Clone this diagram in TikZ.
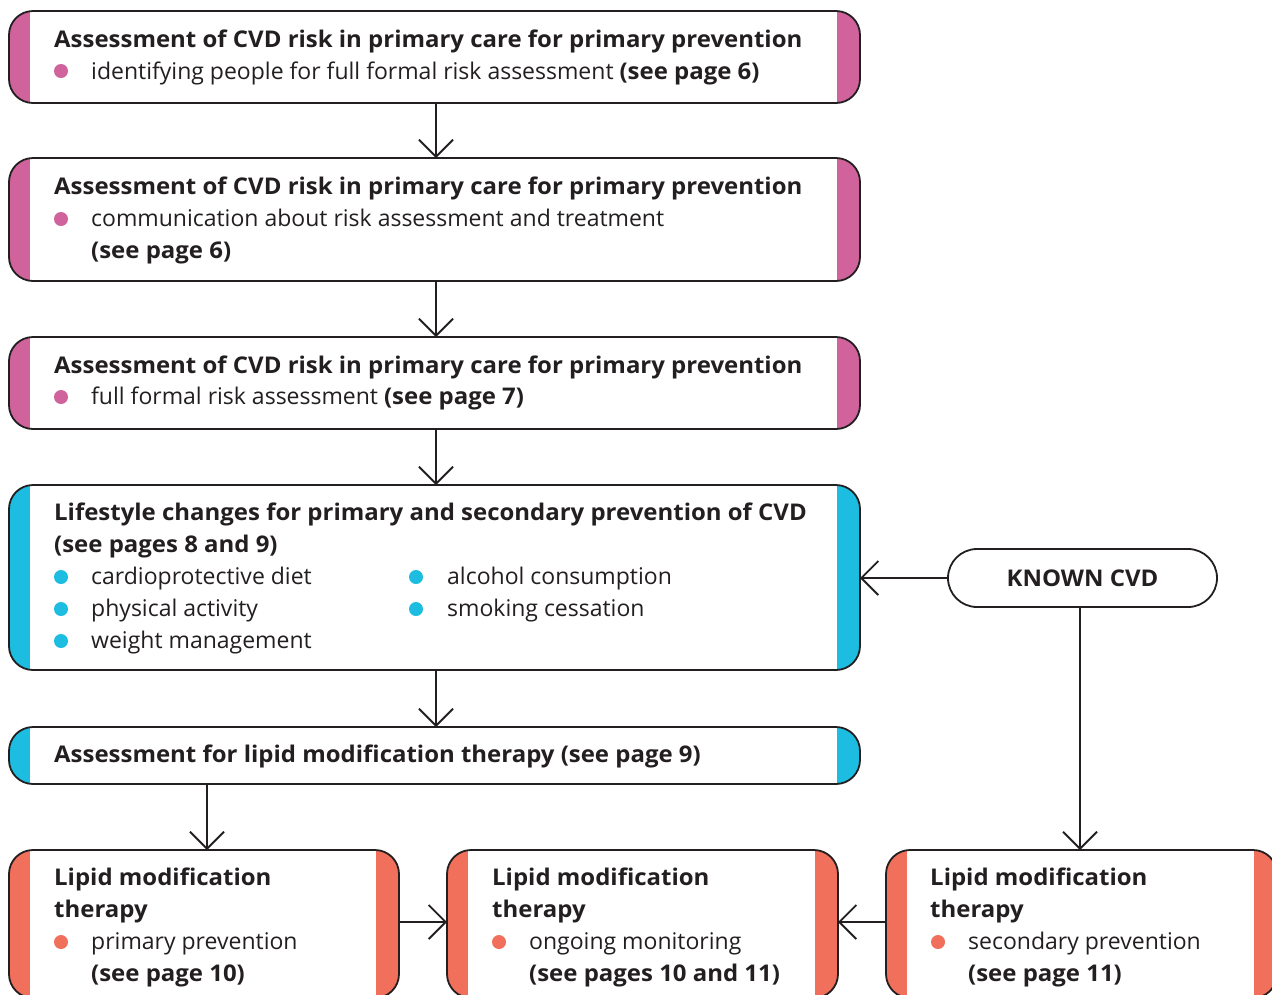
\documentclass[tikz,border=0pt]{standalone}
\usepackage{fontspec}
\setmainfont{Open Sans}[BoldFeatures={FakeStretch=1.042}]
\usetikzlibrary{arrows.meta}
\definecolor{linec}{HTML}{231F20}
\definecolor{pinkc}{HTML}{D0639C}
\definecolor{cyanc}{HTML}{1CBDE0}
\definecolor{coralc}{HTML}{F0705C}
\begin{document}
\begin{tikzpicture}[x=1pt,y=-1pt,
  box/.style={draw=linec, line width=1.8pt, fill=white, rounded corners=24pt, inner sep=0pt, outer sep=0pt,
    path picture={\fill[#1, sharp corners] (path picture bounding box.north west) rectangle ([xshift=21pt]path picture bounding box.south west);
                  \fill[#1, sharp corners] (path picture bounding box.north east) rectangle ([xshift=-23pt]path picture bounding box.south east);}},
  pill/.style={draw=linec, line width=1.8pt, fill=white, rounded corners=29pt, inner sep=0pt, outer sep=0pt},
  t/.style={anchor=base west, text=linec, inner sep=0pt, font=\fontsize{23}{30}\selectfont},
  tb/.style={anchor=base west, text=linec, inner sep=0pt, font=\fontsize{23}{30}\selectfont\bfseries},
  arr/.style={draw=linec, line width=1.8pt, -{Straight Barb[length=17pt,width=34pt,line width=1.8pt]}},
  dotp/.style={fill=pinkc}, dotc/.style={fill=cyanc}, dotr/.style={fill=coralc}]
\clip (0,0) rectangle (1272,994);
\useasboundingbox (0,0) rectangle (1272,994);
\fill[white] (0,0) rectangle (1272,994);

% boxes
\node[box=pinkc, minimum width=851pt, minimum height=92pt] (b1) at (434.5,57) {};
\node[box=pinkc, minimum width=851pt, minimum height=123pt] (b2) at (434.5,219.5) {};
\node[box=pinkc, minimum width=851pt, minimum height=92pt] (b3) at (434.5,383) {};
\node[box=cyanc, minimum width=851pt, minimum height=185pt] (b4) at (434.5,577.5) {};
\node[box=cyanc, minimum width=851pt, minimum height=57pt] (b5) at (434.5,755.5) {};
\node[box=coralc, minimum width=390pt, minimum height=148pt] (b6) at (204,924) {};
\node[box=coralc, minimum width=391pt, minimum height=148pt] (b7) at (642.5,924) {};
\node[box=coralc, minimum width=391pt, minimum height=148pt] (b8) at (1081.5,924) {};
\node[pill, minimum width=269pt, minimum height=58pt, font=\fontsize{23}{30}\selectfont\bfseries, text=linec] (k) at (1082.5,578) {KNOWN CVD};

% box 1
\node[tb] (t1a) at (54,47) {Assessment of CVD risk in primary care for primary prevention};
\fill[dotp] (61,71) circle (7pt);
\node[t] (t1b) at (91,79) {identifying people for full formal risk assessment \textbf{(see page 6)}};
% box 2
\node[tb] (t2a) at (54,194) {Assessment of CVD risk in primary care for primary prevention};
\fill[dotp] (61,219) circle (7pt);
\node[t] (t2b) at (91,226) {communication about risk assessment and treatment};
\node[tb] (t2c) at (91,258) {(see page 6)};
% box 3
\node[tb] (t3a) at (54,373) {Assessment of CVD risk in primary care for primary prevention};
\fill[dotp] (61,397) circle (7pt);
\node[t] (t3b) at (91,404) {full formal risk assessment \textbf{(see page 7)}};
% box 4
\node[tb] (t4a) at (54,520) {Lifestyle changes for primary and secondary prevention of CVD};
\node[tb] (t4b) at (54,552) {(see pages 8 and 9)};
\fill[dotc] (61,577) circle (7pt);
\fill[dotc] (61,609) circle (7pt);
\fill[dotc] (61,641) circle (7pt);
\node[t] (t4c) at (91,584) {cardioprotective diet};
\node[t] (t4d) at (91,616) {physical activity};
\node[t] (t4e) at (91,648) {weight management};
\fill[dotc] (416,577) circle (7pt);
\fill[dotc] (416,609) circle (7pt);
\node[t] (t4f) at (447,584) {alcohol consumption};
\node[t] (t4g) at (447,616) {smoking cessation};
% box 5
\node[tb] (t5a) at (54,762) {Assessment for lipid modification therapy (see page 9)};
% box 6
\node[tb] (t6a) at (54,885) {Lipid modification};
\node[tb] (t6b) at (54,917) {therapy};
\fill[dotr] (61,942) circle (7pt);
\node[t] (t6c) at (91,949) {primary prevention};
\node[tb] (t6d) at (91,981) {(see page 10)};
% box 7
\node[tb] (t7a) at (492,885) {Lipid modification};
\node[tb] (t7b) at (492,917) {therapy};
\fill[dotr] (499,942) circle (7pt);
\node[t] (t7c) at (529,949) {ongoing monitoring};
\node[tb] (t7d) at (529,981) {(see pages 10 and 11)};
% box 8
\node[tb] (t8a) at (930,885) {Lipid modification};
\node[tb] (t8b) at (930,917) {therapy};
\fill[dotr] (938,942) circle (7pt);
\node[t] (t8c) at (968,949) {secondary prevention};
\node[tb] (t8d) at (968,981) {(see page 11)};

% arrows
\draw[arr] ([xshift=1.5pt]b1.south) -- ([xshift=1.5pt]b2.north);
\draw[arr] ([xshift=1.5pt]b2.south) -- ([xshift=1.5pt]b3.north);
\draw[arr] ([xshift=1.5pt]b3.south) -- ([xshift=1.5pt]b4.north);
\draw[arr] ([xshift=1.5pt]b4.south) -- ([xshift=1.5pt]b5.north);
\draw[arr] ([xshift=3pt]b5.south -| b6.north) -- ([xshift=3pt]b6.north);
\draw[arr] (k.west) -- (k.west -| b4.east);
\draw[arr] ([xshift=-2.5pt]k.south) -- ([xshift=-2.5pt]k.south |- b8.north);
\draw[arr] ([yshift=2pt]b6.east) -- ([yshift=2pt]b7.west);
\draw[arr] ([yshift=2pt]b8.west) -- ([yshift=2pt]b7.east);
\end{tikzpicture}
\end{document}
